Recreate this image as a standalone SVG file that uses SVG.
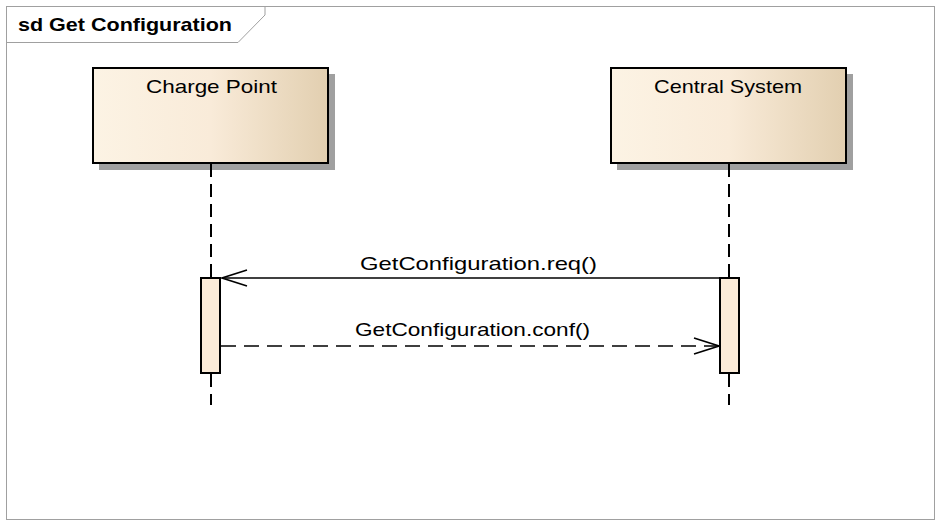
<svg xmlns="http://www.w3.org/2000/svg" width="944" height="529" viewBox="0 0 944 529">
<style>
.lbl{font-family:"Liberation Sans",Arial,sans-serif;font-size:19px;fill:#000}
.box{stroke:#000;stroke-width:2;fill:url(#g)}
.sh{fill:#a0a0a0}
.life{stroke:#000;stroke-width:2;stroke-dasharray:13,7;fill:none}
.act{fill:#fbebd8;stroke:#000;stroke-width:2}
.msg{stroke:#000;stroke-width:1.5;fill:none}
</style>
<defs>
<linearGradient id="g" x1="0" y1="0" x2="1" y2="0">
<stop offset="0" stop-color="#fcf3e4"/>
<stop offset="0.5" stop-color="#f9ebd9"/>
<stop offset="1" stop-color="#e2cfb0"/>
</linearGradient>
<marker id="open" markerWidth="28" markerHeight="20" refX="26" refY="9" orient="auto" markerUnits="userSpaceOnUse">
<path d="M1,1 L26,9 L1,17" fill="none" stroke="#000" stroke-width="1.6"/>
</marker>
</defs>
<rect x="0" y="0" width="944" height="529" fill="#fff"/>
<g id="frame">
<rect x="6.5" y="6.5" width="928" height="513" fill="none" stroke="#a0a0a0" stroke-width="1"/>
<path d="M6.5,42.5 H238 L265,15 V6.5" fill="none" stroke="#a0a0a0" stroke-width="1"/>
<text x="18" y="31" textLength="214" lengthAdjust="spacingAndGlyphs" style="font-family:'Liberation Sans',Arial,sans-serif;font-size:19px;font-weight:bold">sd Get Configuration</text>
</g>
<g id="charge-point">
<rect class="sh" x="99" y="74" width="236" height="96"/>
<rect class="box" x="93" y="68" width="235" height="95"/>
<text class="lbl" x="146" y="93" textLength="131" lengthAdjust="spacingAndGlyphs">Charge Point</text>
<path class="life" d="M211,164 V277"/>
<path class="life" d="M211,374 V405" stroke-dasharray="13,8,2,20"/>
<rect class="act" x="201" y="278" width="19" height="95"/>
</g>
<g id="central-system">
<rect class="sh" x="617" y="74" width="236" height="96"/>
<rect class="box" x="611" y="68" width="235" height="95"/>
<text class="lbl" x="654" y="93" textLength="148" lengthAdjust="spacingAndGlyphs">Central System</text>
<path class="life" d="M729,164 V277"/>
<path class="life" d="M729,374 V405" stroke-dasharray="13,8,2,20"/>
<rect class="act" x="720" y="278" width="19" height="95"/>
</g>
<g id="connectors">
<path class="msg" d="M720,278 H222" marker-end="url(#open)"/>
<text class="lbl" x="360" y="270" textLength="237" lengthAdjust="spacingAndGlyphs">GetConfiguration.req()</text>
<path class="msg" d="M221,346 H719" stroke-dasharray="15,8" marker-end="url(#open)"/>
<text class="lbl" x="355" y="336" textLength="235" lengthAdjust="spacingAndGlyphs">GetConfiguration.conf()</text>
</g>
</svg>
